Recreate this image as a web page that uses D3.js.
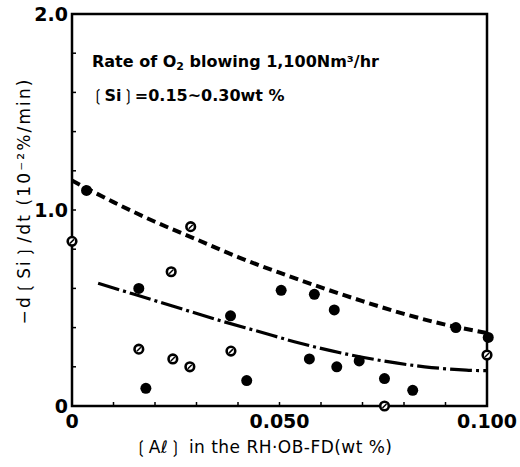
<!DOCTYPE html>
<html><head><meta charset="utf-8">
<script src="https://cdn.jsdelivr.net/npm/d3@7"></script>
<style>body{margin:0;background:#fff}svg{display:block}text{font-family:"DejaVu Sans",sans-serif;fill:#000}</style>
</head><body><div id="chart"></div>
<script>
// Data (x = [Al] wt%, y = -d[Si]/dt in 10^-2 %/min)
const filledX = [0.0035, 0.0161, 0.0504, 0.0584, 0.0632, 0.0382, 0.0925, 0.1003, 0.0572, 0.0638, 0.0692, 0.0753, 0.0821, 0.0178, 0.0421];
const filledY = [1.10, 0.60, 0.59, 0.57, 0.49, 0.46, 0.40, 0.35, 0.24, 0.20, 0.23, 0.14, 0.08, 0.09, 0.13];
const openX = [0.0286, 0.0, 0.0239, 0.100, 0.0161, 0.0243, 0.0284, 0.0383, 0.0753];
const openY = [0.915, 0.84, 0.685, 0.26, 0.29, 0.24, 0.20, 0.28, 0.0];
const upperCurveX = [0.0, 0.01, 0.02, 0.03, 0.04, 0.05, 0.06, 0.07, 0.08, 0.09, 0.10];
const upperCurveY = [1.15, 1.04, 0.94, 0.85, 0.76, 0.68, 0.605, 0.535, 0.47, 0.415, 0.372];
const lowerCurveX = [0.0063, 0.015, 0.025, 0.035, 0.045, 0.055, 0.065, 0.075, 0.085, 0.095, 0.100];
const lowerCurveY = [0.626, 0.57, 0.505, 0.44, 0.38, 0.32, 0.27, 0.23, 0.20, 0.183, 0.18];
const xTickVals = [0, 0.05, 0.1];
const xTickLabels = ["0", "0.050", "0.100"];
const yTickVals = [0, 1, 2];
const yTickLabels = ["0", "1.0", "2.0"];

const W = 520, H = 467;
const m = {left: 72, right: 33, top: 14, bottom: 61};
const svg = d3.select("#chart").append("svg").attr("width", W).attr("height", H);
const x = d3.scaleLinear().domain([0, 0.1]).range([m.left, W - m.right]);
const y = d3.scaleLinear().domain([0, 2]).range([H - m.bottom, m.top]);

// minor ticks (inward)
const g = svg.append("g");
d3.range(1, 10).forEach(i => {
  const v = i * 0.01;
  g.append("line").attr("x1", x(v)).attr("x2", x(v)).attr("y1", y(0)).attr("y2", y(0) - 4).attr("stroke", "#000").attr("stroke-width", 1.5);
});
d3.range(1, 10).forEach(i => {
  const v = i * 0.2;
  g.append("line").attr("x1", x(0)).attr("x2", x(0) + 4).attr("y1", y(v)).attr("y2", y(v)).attr("stroke", "#000").attr("stroke-width", 1.5);
});

// frame
svg.append("rect").attr("x", x(0)).attr("y", y(2)).attr("width", x(0.1) - x(0)).attr("height", y(0) - y(2))
  .attr("fill", "none").attr("stroke", "#000").attr("stroke-width", 2.5);

// tick labels
svg.selectAll(".xt").data(xTickVals).enter().append("text")
  .attr("x", d => x(d)).attr("y", y(0) + 22).attr("text-anchor", "middle")
  .attr("font-size", 19).attr("font-weight", "bold").text((d, i) => xTickLabels[i]);
svg.selectAll(".yt").data(yTickVals).enter().append("text")
  .attr("x", x(0) - 4).attr("y", d => y(d) + 7).attr("text-anchor", "end")
  .attr("font-size", 19).attr("font-weight", "bold").text((d, i) => yTickLabels[i]);

// axis titles
svg.append("text").attr("x", 263).attr("y", 453).attr("text-anchor", "middle").attr("font-size", 17)
  .attr("textLength", 258).attr("lengthAdjust", "spacing")
  .text("❲Aℓ❳ in the RH·OB-FD(wt %)");
svg.append("text").attr("transform", "translate(30,202) rotate(-90)").attr("text-anchor", "middle").attr("font-size", 17)
  .attr("textLength", 245).attr("lengthAdjust", "spacing")
  .text("−d❲Si❳/dt (10⁻²%/min)");

// annotations
svg.append("text").attr("x", 92).attr("y", 67).attr("font-size", 16).attr("font-weight", "bold")
  .html('Rate of O<tspan font-size="11" dy="3">2</tspan><tspan dy="-3"> blowing 1,100Nm³/hr</tspan>');
svg.append("text").attr("x", 91).attr("y", 101).attr("font-size", 16).attr("font-weight", "bold")
  .text("❲Si❳=0.15~0.30wt %");

// curves
const line = d3.line().x(d => x(d[0])).y(d => y(d[1])).curve(d3.curveCatmullRom);
svg.append("path").datum(upperCurveX.map((v, i) => [v, upperCurveY[i]])).attr("d", line)
  .attr("fill", "none").attr("stroke", "#000").attr("stroke-width", 4).attr("stroke-dasharray", "9,5");
svg.append("path").datum(lowerCurveX.map((v, i) => [v, lowerCurveY[i]])).attr("d", line)
  .attr("fill", "none").attr("stroke", "#000").attr("stroke-width", 3.2).attr("stroke-dasharray", "22,4,3,4");

// points
svg.selectAll(".f").data(filledX).enter().append("circle")
  .attr("cx", d => x(d)).attr("cy", (d, i) => y(filledY[i])).attr("r", 5.5).attr("fill", "#000");
const og = svg.selectAll(".o").data(openX).enter().append("g")
  .attr("transform", (d, i) => "translate(" + x(d) + "," + y(openY[i]) + ")");
og.append("circle").attr("r", 4.3).attr("fill", "#fff").attr("stroke", "#000").attr("stroke-width", 2.6);
og.append("line").attr("x1", -2).attr("y1", 2).attr("x2", 2).attr("y2", -2).attr("stroke", "#000").attr("stroke-width", 1.5);
</script></body></html>
